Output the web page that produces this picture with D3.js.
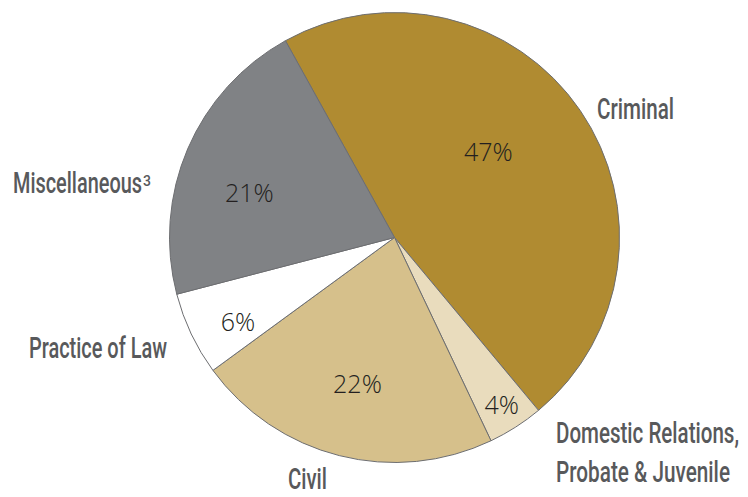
<!DOCTYPE html>
<html>
<head>
<meta charset="utf-8">
<script src="https://cdn.jsdelivr.net/npm/d3@7"></script>
<style>
  body { margin: 0; background: #fff; }
  .cat { font-family: Roboto, "Liberation Sans", sans-serif; font-weight: 500; font-size: 30px; fill: #58595b; }
  .pct { font-family: "Open Sans", Lato, sans-serif; font-weight: 300; font-size: 25px; fill: #231f20; }
</style>
</head>
<body>
<div id="chartArea"></div>
<script>
// slice data, clockwise from the Criminal slice
var categories = ["Criminal", "Domestic Relations, Probate & Juvenile", "Civil", "Practice of Law", "Miscellaneous"];
var shares = [47, 4, 22, 6, 21];
var pctLabels = ["47%", "4%", "22%", "6%", "21%"];
var colors = ["#b08b31", "#e9dcbd", "#d6c08b", "#ffffff", "#808285"];

var width = 748, height = 497;
var cx = 394.5, cy = 237.5, radius = 225;
var startAngle = -29 * Math.PI / 180;

// how far out (in px) each percent label sits, and its nudge in degrees
var pctRadius = [127, 199, 151, 178, 152];
var pctNudge = [-8, 0, 0, -3, -6];

var svg = d3.select("#chartArea").append("svg")
    .attr("width", width).attr("height", height);

var g = svg.append("g").attr("transform", "translate(" + cx + "," + cy + ")");

var pie = d3.pie().sort(null).value(function(d) { return d; })
    .startAngle(startAngle).endAngle(startAngle + 2 * Math.PI);
var arcs = pie(shares);

var arc = d3.arc().innerRadius(0).outerRadius(radius);

g.selectAll("path.slice")
    .data(arcs).enter().append("path")
    .attr("class", "slice")
    .attr("d", arc)
    .style("fill", function(d, i) { return colors[i]; })
    .style("stroke", "#6d6e71")
    .style("stroke-width", 1);

g.selectAll("text.pct")
    .data(arcs).enter().append("text")
    .attr("class", "pct")
    .attr("transform", function(d, i) {
        var a = (d.startAngle + d.endAngle) / 2 + pctNudge[i] * Math.PI / 180;
        var r = pctRadius[i];
        return "translate(" + (r * Math.sin(a)) + "," + (-r * Math.cos(a)) + ")";
    })
    .attr("text-anchor", "middle")
    .attr("dy", "0.36em")
    .text(function(d, i) { return pctLabels[i]; });

// category labels outside the pie (the original face is a condensed one,
// so each line is squeezed to the width it has in the print)
var outer = [
    { lines: ["Criminal"], widths: [77], x: 597, y: 119 },
    { lines: ["Domestic Relations,", "Probate & Juvenile"], widths: [183, 174], x: 556, y: 443, gap: 39 },
    { lines: ["Civil"], widths: [39], x: 288, y: 489 },
    { lines: ["Practice of Law"], widths: [138], x: 29, y: 358 },
    { lines: ["Miscellaneous"], widths: [129], x: 13, y: 193, sup: "3" }
];

outer.forEach(function(o) {
    o.lines.forEach(function(line, j) {
        svg.append("text").attr("class", "cat")
            .attr("x", o.x).attr("y", o.y + j * (o.gap || 0))
            .attr("textLength", o.widths[j])
            .attr("lengthAdjust", "spacingAndGlyphs")
            .text(line);
    });
    if (o.sup) {
        svg.append("text").attr("class", "cat")
            .attr("x", o.x + o.widths[0] + 1).attr("y", o.y - 7)
            .style("font-size", "14px")
            .text(o.sup);
    }
});
</script>
</body>
</html>
